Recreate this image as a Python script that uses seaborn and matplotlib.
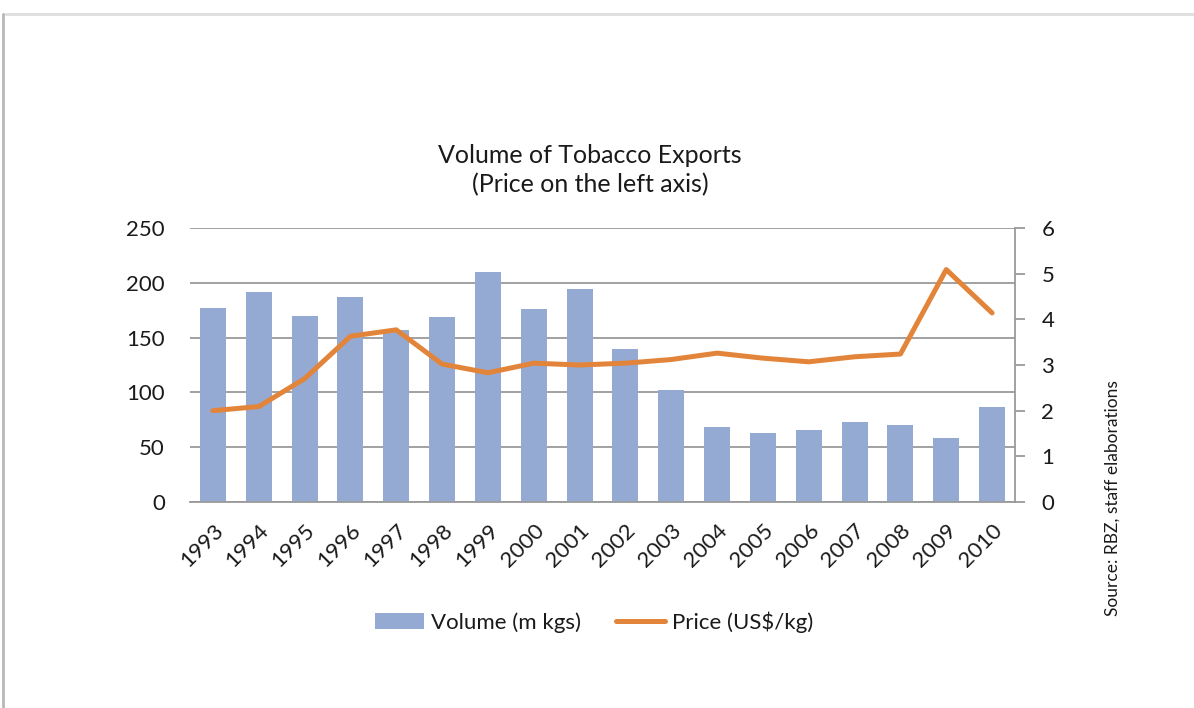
import numpy as np
import pandas as pd
import matplotlib
matplotlib.use("Agg")
import matplotlib.pyplot as plt
from matplotlib.lines import Line2D
from matplotlib.patches import Patch
import seaborn as sns

# Tobacco export data
years = [str(y) for y in range(1993, 2011)]
volume = [177, 192, 170, 187, 157, 169, 210, 176, 194, 140, 102, 68, 63, 66, 73, 70, 58, 87]
price = [2.00, 2.09, 2.70, 3.63, 3.77, 3.02, 2.83, 3.04, 3.00, 3.04, 3.12, 3.26, 3.15, 3.07, 3.18, 3.24, 5.09, 4.14]

left_ticks = [0, 50, 100, 150, 200, 250]
right_ticks = [0, 1, 2, 3, 4, 5, 6]

BAR_COLOR = "#94aad3"
LINE_COLOR = "#e2853a"
GRID_COLOR = "#9a9a9a"
TEXT_COLOR = "#1a1a1a"

sns.set_theme(style="white")
plt.rcParams["font.family"] = ["Lato", "DejaVu Sans"]

df = pd.DataFrame({"year": years, "volume": volume, "price": price})

fig = plt.figure(figsize=(11.94, 7.08), dpi=100)
fig.patch.set_facecolor("white")
ax = fig.add_axes([190 / 1194, 1 - 502 / 708, 825 / 1194, 274 / 708])

sns.barplot(data=df, x="year", y="volume", ax=ax, color=BAR_COLOR,
            width=0.57, saturation=1, edgecolor="none")
ax.set_ylim(0, 250)
ax.set_yticks(left_ticks)
ax.yaxis.grid(True, color=GRID_COLOR, linewidth=1.3)
ax.set_axisbelow(True)
for s in ["top", "right", "left"]:
    ax.spines[s].set_visible(False)
ax.spines["bottom"].set_color(GRID_COLOR)
ax.spines["bottom"].set_linewidth(1.3)
ax.tick_params(axis="y", length=0, pad=18, labelsize=16, labelcolor=TEXT_COLOR)
ax.tick_params(axis="x", length=0, pad=13, labelsize=16, labelcolor=TEXT_COLOR)
ax.set_xlabel("")
ax.set_ylabel("")

ax2 = ax.twinx()
sns.pointplot(data=df, x="year", y="price", ax=ax2, color=LINE_COLOR,
              markers="", linewidth=3.6)
ax2.set_ylim(0, 6)
ax2.set_yticks(right_ticks)
ax2.set_ylabel("")
ax2.set_xlabel("")
for s in ["top", "left", "bottom"]:
    ax2.spines[s].set_visible(False)
ax2.spines["right"].set_color(GRID_COLOR)
ax2.spines["right"].set_linewidth(1.3)
ax2.tick_params(axis="y", length=7, width=1.3, color=GRID_COLOR, pad=12,
                labelsize=16, labelcolor=TEXT_COLOR, right=True, left=False)
ax2.grid(False)

ax.set_xlim(-0.5, len(years) - 0.5)
ax.set_xticks(range(len(years)))
ax.set_xticklabels(years, rotation=45, ha="right", rotation_mode="anchor")

fig.text(590 / 1194, 1 - 170 / 708, "Volume of Tobacco Exports\n(Price on the left axis)",
         ha="center", va="center", fontsize=18, color=TEXT_COLOR, linespacing=1.3)

handles = [Patch(facecolor=BAR_COLOR, edgecolor="none"),
           Line2D([0], [0], color=LINE_COLOR, linewidth=3.6)]
fig.legend(handles, ["Volume (m kgs)", "Price (US$/kg)"], loc="center",
           bbox_to_anchor=(594 / 1194, 1 - 622 / 708), ncol=2, frameon=False,
           fontsize=16, handlelength=2.2, handleheight=0.7, handletextpad=0.3,
           columnspacing=1.6, labelcolor=TEXT_COLOR)

fig.text(1113 / 1194, 1 - 498 / 708, "Source: RBZ, staff elaborations",
         rotation=90, ha="center", va="center", fontsize=12.5, color=TEXT_COLOR)

# page frame
fig.add_artist(Line2D([3 / 1194, 1.0], [1 - 14 / 708, 1 - 14 / 708],
                      transform=fig.transFigure, color="#dedede", linewidth=2))
fig.add_artist(Line2D([3 / 1194, 3 / 1194], [1 - 14 / 708, 0.0],
                      transform=fig.transFigure, color="#b8b8b8", linewidth=2))

fig.savefig("out.png", dpi=100, facecolor="white")
